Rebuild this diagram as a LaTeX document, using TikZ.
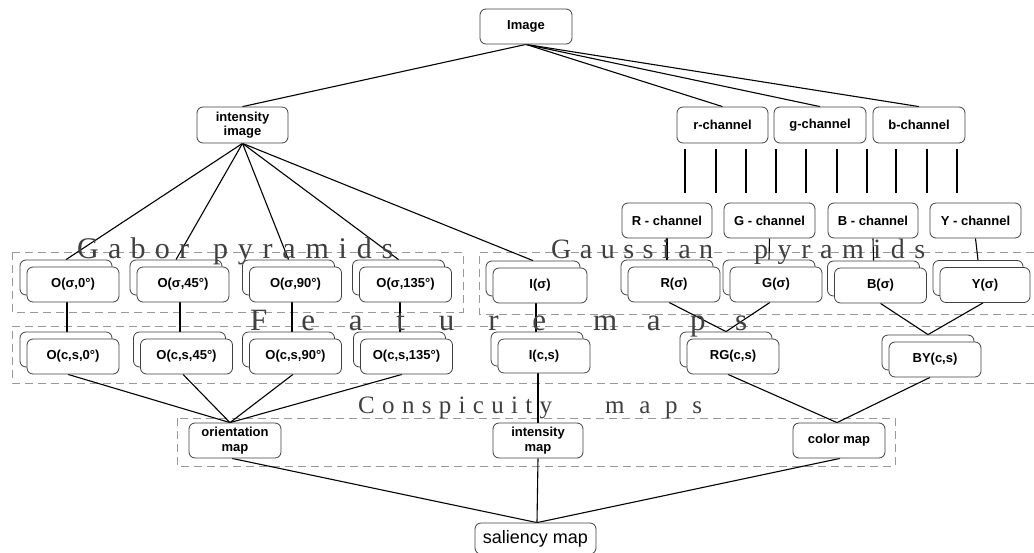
\documentclass[tikz,border=0pt]{standalone}
\usepackage{fontspec}
\setmainfont{Liberation Serif}
\newfontfamily\arialf{Liberation Sans}
\usetikzlibrary{shadows,backgrounds,calc}
\begin{document}
\begin{tikzpicture}[x=1pt,y=-1pt,
  nbox/.style={draw=black!75, fill=white, rounded corners=6pt, line width=0.8pt,
    minimum width=92pt, minimum height=35pt, inner sep=0pt, align=center,
    font=\arialf\bfseries\fontsize{13}{14.5}\selectfont},
  sbox/.style={nbox, copy shadow={shadow xshift=-7pt, shadow yshift=7pt,
    draw=black!75, fill=white, line width=0.8pt}},
  conn/.style={line width=1.1pt, draw=black},
  grp/.style={draw=black!40, line width=0.9pt, dash pattern=on 8pt off 5pt},
  lbl/.style={inner sep=0pt, anchor=base west, text=black!75}
]
\useasboundingbox (0,0) rectangle (1034,552);

% nodes
\node[nbox] (img) at (526,26.5) {Image};
\node[nbox, minimum width=91pt, minimum height=36pt] (ii) at (242.5,125) {intensity\\image};
\node[nbox, minimum width=91pt, minimum height=36pt] (rc) at (722.5,125) {r-channel};
\node[nbox, minimum height=36pt] (gc) at (820,125) {g-channel};
\node[nbox, minimum height=36pt] (bc) at (919,125) {b-channel};

\node[nbox, minimum width=90pt] (Rc) at (667,220.5) {R - channel};
\node[nbox, minimum width=91pt] (Gc) at (769.5,220.5) {G - channel};
\node[nbox, minimum width=90pt] (Bc) at (873,220.5) {B - channel};
\node[nbox, minimum width=91pt] (Yc) at (975.5,220.5) {Y - channel};

\node[sbox] (g1) at (73,284.5) {O(σ,0°)};
\node[sbox] (g2) at (183,284.5) {O(σ,45°)};
\node[sbox] (g3) at (295.5,284.5) {O(σ,90°)};
\node[sbox] (g4) at (405.5,284.5) {O(σ,135°)};
\node[sbox, minimum width=94pt] (Is) at (540,285.5) {I(σ)};
\node[sbox] (Rs) at (674,284.5) {R(σ)};
\node[sbox] (Gs) at (776,284.5) {G(σ)};
\node[sbox] (Bs) at (880.5,285.5) {B(σ)};
\node[sbox, minimum width=90pt] (Ys) at (985,285) {Y(σ)};

\node[sbox] (f1) at (73,356.5) {O(c,s,0°)};
\node[sbox] (f2) at (186.5,356.5) {O(c,s,45°)};
\node[sbox] (f3) at (295.5,356.5) {O(c,s,90°)};
\node[sbox] (f4) at (406.5,356.5) {O(c,s,135°)};
\node[sbox, minimum height=34pt] (Ics) at (544,356) {I(c,s)};
\node[sbox] (RG) at (733,356.5) {RG(c,s)};
\node[sbox] (BY) at (935,359.5) {BY(c,s)};

\node[nbox] (om) at (235,440.5) {orientation\\map};
\node[nbox, minimum width=90pt] (im) at (538,440.5) {intensity\\map};
\node[nbox] (cm) at (839,440.5) {color map};

\node[nbox, minimum width=121pt, minimum height=31pt,
  font=\arialf\fontsize{18}{20}\selectfont] (sal) at (535.5,538.5) {saliency map};

% background: groups and connectors
\begin{scope}[on background layer]
  \draw[grp] (12,252) rectangle (463,312);
  \draw[grp] (1034,252) -| (479,314) -- (1034,314);
  \draw[grp] (1034,326) -| (12,383) -- (1034,383);
  \draw[grp] (177,418) rectangle (895,466);

  \draw[conn] (img.south) -- (ii.north);
  \foreach \n in {rc,gc,bc} \draw[conn] (img.south) -- (\n.north);
  \foreach \n in {g1,g2,g3,g4,Is} \draw[conn] (ii.south) -- ([shift={(-7,-7)}]\n.north);

  \foreach \x in {685,716,746,776,806,837,867,896,927,957} \draw[conn] (\x,149) -- (\x,193);

  \draw[conn] (Rc.south) -- ([shift={(-7,-7)}]Rs.north);
  \draw[conn] (Gc.south) -- ([shift={(-7,-7)}]Gs.north);
  \draw[conn] (Bc.south) -- ([shift={(-7,-7)}]Bs.north);
  \draw[conn] (Yc.south) -- ([shift={(-7,-7)}]Ys.north);

  \draw[conn] ([xshift=-6pt]g1.south) -- ++(0,37);
  \draw[conn] ([xshift=-3pt]g2.south) -- ++(0,37);
  \draw[conn] ([xshift=-3.5pt]g3.south) -- ++(0,37);
  \draw[conn] ([xshift=-5.5pt]g4.south) -- ++(0,37);
  \draw[conn] ([xshift=-4pt]Is.south) -- ++(0,36);

  \draw[conn] ([xshift=-5pt]Rs.south) -- ([shift={(-7,-7)}]RG.north) -- ([xshift=-6pt]Gs.south);
  \draw[conn] (Bs.south) -- ([shift={(-7,-7)}]BY.north) -- ([xshift=-2pt]Ys.south);

  \draw[conn] ([xshift=-5pt]f1.south) -- ([xshift=-5pt]om.north);
  \draw[conn] ([xshift=-3.5pt]f2.south) -- ([xshift=-5pt]om.north);
  \draw[conn] ([xshift=-2.5pt]f3.south) -- ([xshift=-5pt]om.north);
  \draw[conn] ([xshift=-4.5pt]f4.south) -- ([xshift=-5pt]om.north);
  \draw[conn] ([xshift=-6pt]Ics.south) -- (im.north);
  \draw[conn] ([xshift=-5pt]RG.south) -- ([xshift=-2pt]cm.north);
  \draw[conn] ([xshift=-5pt]BY.south) -- ([xshift=-2pt]cm.north);

  \draw[conn] ([xshift=-3pt]om.south) -- ([xshift=1.5pt]sal.north);
  \draw[conn] (im.south) -- ([xshift=1.5pt]sal.north);
  \draw[conn] ([xshift=1pt]cm.south) -- ([xshift=1.5pt]sal.north);
\end{scope}

% spaced group labels
\node[lbl, font=\fontsize{30}{30}\selectfont] (lgab) at (77,258)
  {\makebox[112pt]{G\hfill a\hfill b\hfill o\hfill r}\hspace{24pt}\makebox[180pt]{p\hfill y\hfill r\hfill a\hfill m\hfill i\hfill d\hfill s}};
\node[lbl, font=\fontsize{28}{28}\selectfont] (lgau) at (551,258)
  {\makebox[162pt]{G\hfill a\hfill u\hfill s\hfill s\hfill i\hfill a\hfill n}\hspace{41pt}\makebox[171pt]{p\hfill y\hfill r\hfill a\hfill m\hfill i\hfill d\hfill s}};
\node[lbl, font=\fontsize{31}{31}\selectfont] (lfea) at (250,330)
  {\makebox[296pt]{F\hfill e\hfill a\hfill t\hfill u\hfill r\hfill e}\hspace{47pt}\makebox[154pt]{m\hfill a\hfill p\hfill s}};
\node[lbl, font=\fontsize{25}{25}\selectfont] (lcon) at (358,413)
  {\makebox[194pt]{C\hfill o\hfill n\hfill s\hfill p\hfill i\hfill c\hfill u\hfill i\hfill t\hfill y}\hspace{53pt}\makebox[97pt]{m\hfill a\hfill p\hfill s}};
\end{tikzpicture}
\end{document}
